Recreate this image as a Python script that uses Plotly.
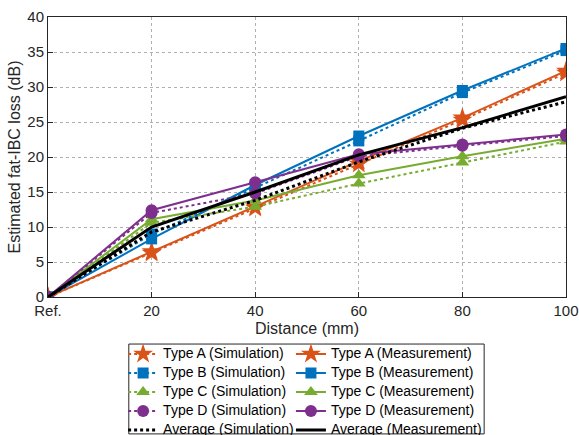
import plotly.graph_objects as go

x_vals = [0, 20, 40, 60, 80, 100]
x_ticktext = ["Ref.", "20", "40", "60", "80", "100"]

a_sim = [0, 6.3, 12.7, 19.0, 25.3, 32.0]
a_meas = [0, 6.5, 12.9, 19.4, 25.6, 32.3]
b_sim = [0, 9.0, 15.6, 22.3, 29.2, 35.2]
b_meas = [0, 8.3, 16.0, 23.0, 29.5, 35.5]
c_sim = [0, 10.6, 12.9, 16.2, 19.2, 22.2]
c_meas = [0, 11.1, 13.8, 17.4, 20.1, 22.6]
d_sim = [0, 12.0, 14.8, 20.1, 21.6, 23.0]
d_meas = [0, 12.4, 16.4, 20.4, 21.8, 23.2]
avg_sim = [0, 9.3, 13.8, 19.3, 24.1, 27.9]
avg_meas = [0, 10.0, 15.0, 20.3, 24.2, 28.6]

series = [
    ("Type A (Simulation)", a_sim, "#D95319", "dot", "star", 15, "legend"),
    ("Type A (Measurement)", a_meas, "#D95319", "solid", "star", 15, "legend2"),
    ("Type B (Simulation)", b_sim, "#0072BD", "dot", "square", 11, "legend"),
    ("Type B (Measurement)", b_meas, "#0072BD", "solid", "square", 11, "legend2"),
    ("Type C (Simulation)", c_sim, "#77AC30", "dot", "triangle-up", 12, "legend"),
    ("Type C (Measurement)", c_meas, "#77AC30", "solid", "triangle-up", 12, "legend2"),
    ("Type D (Simulation)", d_sim, "#7E2F8E", "dot", "circle", 12, "legend"),
    ("Type D (Measurement)", d_meas, "#7E2F8E", "solid", "circle", 12, "legend2"),
    ("Average (Simulation)", avg_sim, "#000000", "dot", None, 0, "legend"),
    ("Average (Measurement)", avg_meas, "#000000", "solid", None, 0, "legend2"),
]

fig = go.Figure()
for name, ys, col, dash, sym, sz, lg in series:
    label = '<span style="font-size:14px">' + name + '</span>'
    if sym is None:
        fig.add_trace(go.Scatter(x=x_vals, y=ys, name=label, mode="lines", legend=lg,
                                 line=dict(color=col, dash=dash, width=3)))
    else:
        fig.add_trace(go.Scatter(x=x_vals, y=ys, name=label, mode="lines+markers", legend=lg,
                                 line=dict(color=col, dash=dash, width=2),
                                 marker=dict(symbol=sym, size=sz, color=col)))

axis_common = dict(showline=True, linecolor="#262626", linewidth=1, mirror=True,
                   showgrid=True, gridcolor="#b0b0b0", griddash="dot", gridwidth=1,
                   ticks="inside", ticklen=5, tickcolor="#262626", zeroline=False,
                   automargin=False,
                   tickfont=dict(size=15, color="#262626"))

fig.update_xaxes(range=[0, 100], tickvals=x_vals, ticktext=x_ticktext,
                 title=dict(text="Distance (mm)", font=dict(size=16, color="#262626"), standoff=4),
                 **axis_common)
fig.update_yaxes(range=[0, 40], dtick=5,
                 title=dict(text="Estimated fat-IBC loss (dB)", font=dict(size=16, color="#262626"), standoff=2),
                 **axis_common)

leg_common = dict(orientation="v", xanchor="left", yanchor="top", tracegroupgap=0,
                  font=dict(size=11, color="#000000"), bgcolor="rgba(0,0,0,0)",
                  borderwidth=0, itemwidth=30)

fig.update_layout(
    width=579, height=435,
    margin=dict(l=48, r=13, t=17, b=138, autoexpand=False),
    plot_bgcolor="white", paper_bgcolor="white",
    font=dict(family="Liberation Sans, Arial, sans-serif", color="#262626"),
    legend=dict(x=0.145, y=-0.152, **leg_common),
    legend2=dict(x=0.469, y=-0.152, **leg_common),
    showlegend=True,
    shapes=[dict(type="rect", xref="paper", yref="paper",
                 x0=0.156, x1=0.842, y0=-0.489, y1=-0.168,
                 line=dict(color="#262626", width=1), fillcolor="rgba(0,0,0,0)")],
)

fig.write_html("out.html", config={"displayModeBar": False},
               post_script="document.body.style.margin='0';")
